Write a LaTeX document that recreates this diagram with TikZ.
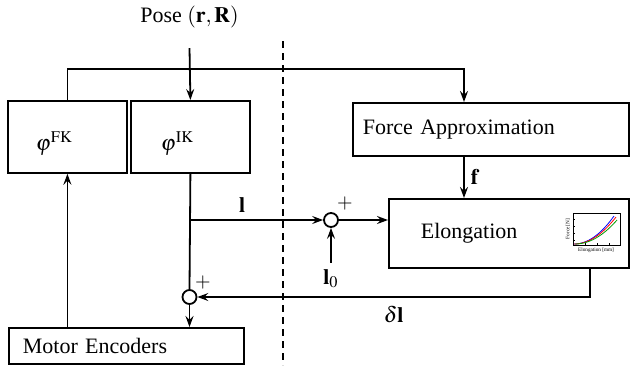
\documentclass[tikz,border=0pt]{standalone}
\usepackage{mathptmx}
\usepackage[no-math]{fontspec}
\setmainfont{Liberation Serif}
\usetikzlibrary{arrows.meta, calc, positioning}

\newcommand{\lowerby}[1]{\raisebox{-3.5pt}[\height][\depth]{#1}}

\begin{document}
\begin{tikzpicture}[x=0.5pt, y=-0.5pt, >={Stealth[length=5.5pt, width=4pt, inset=2pt]},
    font=\fontsize{11}{13}\selectfont]

% --- Styles ---
\tikzset{
    block/.style={draw=black, line width=0.9pt, anchor=north west, align=left, inner ysep=0pt},
    sumPoint/.style={circle, draw=black, line width=0.9pt, fill=white, minimum size=7pt, inner sep=0pt},
    sigPath/.style={->, black, line width=0.9pt},
    sigLine/.style={black, line width=0.9pt},
    divider/.style={dashed, dash pattern=on 3.5pt off 2.5pt, line width=1pt},
    plusSign/.style={font=\fontsize{10}{12}\selectfont},
    tinyText/.style={font=\fontsize{2.6}{3}\selectfont, inner sep=0pt},
}

\useasboundingbox (0,0) rectangle (630,365);

% --- Blocks ---
\node[block, minimum width=59.5pt, minimum height=36pt, text width=31.5pt, inner xsep=14pt] (fk) at (7,100) {\lowerby{$\varphi^{\mathrm{FK}}$}};
\node[block, minimum width=59.5pt, minimum height=36pt, text width=29.5pt, inner xsep=15pt] (ik) at (130,100) {\lowerby{$\varphi^{\mathrm{IK}}$}};
\node[block, minimum width=138pt, minimum height=26.5pt, text width=128pt, inner xsep=5pt] (fa) at (352,102) {Force Approximation};
\node[block, minimum width=120pt, minimum height=34.5pt, text width=88pt, inner xsep=16pt] (el) at (388,198) {Elongation};
\node[block, minimum width=117.5pt, minimum height=18pt, text width=103.5pt, inner xsep=7pt] (me) at (8,327) {Motor Encoders};

% --- Input and summing points ---
\node (pose) at (189.5,17) {Pose $(\mathbf{r},\mathbf{R})$};
\node[sumPoint] (sumA) at (331,220) {};
\node[sumPoint] (sumB) at (189.5,297) {};
\node[plusSign] (plusA) at (345,203) {$+$};
\node[plusSign] (plusB) at (203,282) {$+$};
\node (lzero) at (331,279) {$\mathbf{l}_0$};

% --- Helper coordinates ---
\coordinate (topRail) at (0,69);
\coordinate (faIn) at (464,102);
\coordinate (fbStart) at (590,267);
\coordinate (lSplit) at (ik.south |- sumA);
\coordinate (divTop) at (283,41);
\coordinate (divBot) at (283,365);

% --- Signal paths ---
\draw[sigPath] ([yshift=-6.5pt]pose.south) -- (ik.north);
\draw[sigPath] (fk.north) -- (fk.north |- topRail) -| (faIn);
\draw[sigPath] (faIn |- fa.south) -- node[right, inner sep=3pt] {$\mathbf{f}$} (faIn |- el.north);
\draw[sigLine] (ik.south) -- (sumB.north);
\draw[sigPath] (lSplit) -- node[above, pos=0.39] {$\mathbf{l}$} (sumA);
\draw[sigPath] (sumA) -- (sumA -| el.west);
\draw[sigPath] (lzero.north) -- (sumA.south);
\draw[sigPath] (fbStart) |- node[below, pos=0.75, inner sep=4pt] {$\delta\mathbf{l}$} (sumB);
\draw[sigPath] (sumB.south) -- (sumB |- me.north);
\draw[sigPath] (me.north -| fk.south) -- (fk.south);

% --- Dashed divider ---
\draw[divider] (divTop) -- (divBot);

% --- Small force/elongation plot ---
\draw[line width=0.35pt] (573,213) rectangle (620,245);
\draw[line width=0.2pt] (573,219) -- ++(2,0) (573,226) -- ++(2,0) (573,233) -- ++(2,0) (573,240) -- ++(2,0);
\draw[line width=0.2pt] (585,245) -- ++(0,-2) (597,245) -- ++(0,-2) (609,245) -- ++(0,-2);
\draw[blue, line width=0.4pt] plot[domain=0:1, samples=20] ({574+40*\x}, {244-28*\x*\x});
\draw[red, line width=0.4pt] plot[domain=0:1, samples=20] ({574+42*\x}, {244-27*\x*\x});
\draw[green!60!black, line width=0.4pt] plot[domain=0:1, samples=20] ({575+42*\x}, {244-24*\x*\x});
\node[tinyText, rotate=90] (plotY) at (568,229) {Force [N]};
\node[tinyText] (plotX) at (596,250) {Elongation [mm]};

\end{tikzpicture}
\end{document}
